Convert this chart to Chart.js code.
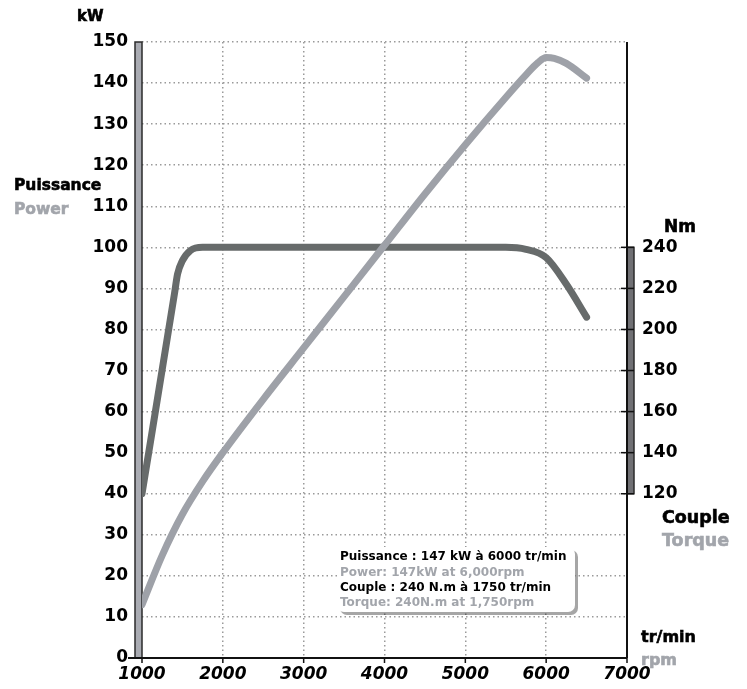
<!DOCTYPE html>
<html>
<head>
<meta charset="utf-8">
<script src="https://cdn.jsdelivr.net/npm/chart.js@4.4.1/dist/chart.umd.min.js"></script>
<style>
  html, body { margin: 0; padding: 0; background: #fff; }
  #wrap { width: 747px; height: 689px; position: relative; }
</style>
</head>
<body>
<div id="wrap"><canvas id="engineChart" width="747" height="689"></canvas></div>
<script>
// data
const powerRpm = [1000, 1250, 1500, 1750, 2000, 2500, 3000, 3500, 4000, 4500, 5000, 5500, 5750, 5900, 6000, 6100, 6250, 6500];
const powerKw = [13, 25, 35, 43, 50, 63, 75.5, 88, 100.5, 113, 125, 136.5, 142, 145, 146.2, 146, 144.8, 141.2];
const torqueRpm = [1000, 1400, 1440, 1500, 1600, 1750, 2500, 3500, 4500, 5500, 5750, 6000, 6250, 6500];
const torqueNm = [120, 217, 227, 233.5, 238.5, 240, 240, 240, 240, 240, 239, 235, 222, 206];
const rpmTicks = [1000, 2000, 3000, 4000, 5000, 6000, 7000];
const nmTicks = [120, 140, 160, 180, 200, 220, 240];

const POWER_COLOR = "#9ea1a8";
const TORQUE_COLOR = "#676b6b";
const GREY_TEXT = "#a2a5ab";
const GRID_COLOR = "#9a9a9a";
const TICK_FONT = { family: "DejaVu Sans", size: 17, weight: "bold" };

// axes, side labels and the info box drawn around the plot
const decorations = {
	id: "decorations",
	beforeDatasetsDraw(chart) {
		const ctx = chart.ctx;
		const area = chart.chartArea;
		const y2 = chart.scales.y2;
		const x = chart.scales.x;
		ctx.save();
		// left grey bar
		ctx.fillStyle = "#a9abb2";
		ctx.strokeStyle = "#2b2b2b";
		ctx.lineWidth = 1.5;
		ctx.fillRect(area.left - 7, area.top, 7, area.bottom - area.top);
		ctx.strokeRect(area.left - 7, area.top, 7, area.bottom - area.top);
		// right torque bar
		const t240 = y2.getPixelForValue(240), t120 = y2.getPixelForValue(120);
		ctx.fillStyle = "#707074";
		ctx.fillRect(area.right, t240, 7, t120 - t240);
		ctx.strokeRect(area.right, t240, 7, t120 - t240);
		ctx.strokeStyle = "#111";
		for (const v of nmTicks) {
			const py = y2.getPixelForValue(v);
			ctx.beginPath();
			ctx.moveTo(area.right - 6, py);
			ctx.lineTo(area.right + 7, py);
			ctx.stroke();
		}
		// right axis line and x axis line
		ctx.lineWidth = 2;
		ctx.beginPath();
		ctx.moveTo(area.right, area.top);
		ctx.lineTo(area.right, area.bottom);
		ctx.moveTo(area.left - 14, area.bottom);
		ctx.lineTo(area.right, area.bottom);
		ctx.stroke();
		ctx.lineWidth = 1.5;
		for (const v of rpmTicks) {
			const px = x.getPixelForValue(v);
			ctx.beginPath();
			ctx.moveTo(px, area.bottom);
			ctx.lineTo(px, area.bottom + 5);
			ctx.stroke();
		}
		ctx.restore();
	},
	afterDraw(chart) {
		const ctx = chart.ctx;
		ctx.save();
		ctx.textBaseline = "middle";
		ctx.textAlign = "left";
		const label = (txt, px, py, color, size) => {
			ctx.font = "bold " + size + "px 'DejaVu Sans'";
			ctx.fillStyle = color;
			ctx.strokeStyle = color;
			ctx.lineWidth = 0.6;
			ctx.fillText(txt, px, py);
			ctx.strokeText(txt, px, py);
		};
		label("kW", 77, 17, "#000", 15);
		label("Puissance", 14, 186, "#000", 15.5);
		label("Power", 14, 210, GREY_TEXT, 15.5);
		label("Nm", 664, 228, "#000", 17);
		label("Couple", 662, 518, "#000", 17.5);
		label("Torque", 662, 541, GREY_TEXT, 17.5);
		label("tr/min", 641, 638, "#000", 16);
		label("rpm", 641, 661, GREY_TEXT, 16);

		// info box with shadow
		const bx = 337, by = 547, bw = 238, bh = 65;
		ctx.fillStyle = "rgba(0,0,0,0.35)";
		ctx.beginPath();
		ctx.roundRect(bx + 3, by + 3, bw, bh, 7);
		ctx.fill();
		ctx.fillStyle = "#fff";
		ctx.beginPath();
		ctx.roundRect(bx, by, bw, bh, 7);
		ctx.fill();
		const infoLines = [
			["Puissance : 147 kW à 6000 tr/min", "#000"],
			["Power: 147kW at 6,000rpm", GREY_TEXT],
			["Couple : 240 N.m à 1750 tr/min", "#000"],
			["Torque: 240N.m at 1,750rpm", GREY_TEXT],
		];
		ctx.font = "bold 12px 'DejaVu Sans'";
		infoLines.forEach((l, i) => {
			ctx.fillStyle = l[1];
			ctx.fillText(l[0], 340, 557 + i * 15.4, 232);
		});
		ctx.restore();
	},
};

const ctx = document.getElementById("engineChart").getContext("2d");
const chart = new Chart(ctx, {
	type: "line",
	data: {
		datasets: [
			{
				label: "Puissance / Power (kW)",
				data: powerRpm.map((r, i) => ({ x: r, y: powerKw[i] })),
				borderColor: POWER_COLOR,
				borderWidth: 7,
				yAxisID: "y",
			},
			{
				label: "Couple / Torque (Nm)",
				data: torqueRpm.map((r, i) => ({ x: r, y: torqueNm[i] })),
				borderColor: TORQUE_COLOR,
				borderWidth: 7,
				yAxisID: "y2",
			},
		],
	},
	options: {
		responsive: false,
		animation: false,
		devicePixelRatio: 1,
		elements: {
			point: { radius: 0 },
			line: { cubicInterpolationMode: "monotone", borderCapStyle: "round", borderJoinStyle: "round" },
		},
		layout: { padding: { top: 42, left: 0, right: 0, bottom: 0 } },
		plugins: { legend: { display: false }, tooltip: { enabled: false } },
		scales: {
			x: {
				type: "linear",
				min: 1000,
				max: 7000,
				afterBuildTicks: (s) => { s.ticks = rpmTicks.map((v) => ({ value: v })); },
				ticks: {
					font: { family: "DejaVu Sans", size: 17, weight: "bold", style: "italic" },
					color: "#000",
					padding: 6,
					maxRotation: 0,
					callback: (v) => String(v),
				},
				grid: {
					color: (c) => (c.tick && (c.tick.value === 1000 || c.tick.value === 7000) ? "transparent" : GRID_COLOR),
					lineWidth: 1.5,
					drawTicks: false,
				},
				border: { display: false, dash: [1.5, 3] },
				afterFit: (s) => { s.height = 31; },
			},
			y: {
				min: 0,
				max: 150,
				ticks: { stepSize: 10, font: TICK_FONT, color: "#000", padding: 14 },
				grid: {
					color: (c) => (c.tick && c.tick.value === 0 ? "transparent" : GRID_COLOR),
					lineWidth: 1.5,
					drawTicks: false,
				},
				border: { display: false, dash: [1.5, 3] },
				afterFit: (s) => { s.width = 142; },
			},
			y2: {
				position: "right",
				min: 40,
				max: 340,
				afterBuildTicks: (s) => { s.ticks = nmTicks.map((v) => ({ value: v })); },
				ticks: { font: TICK_FONT, color: "#000", padding: 15 },
				grid: { display: false, drawTicks: false },
				border: { display: false },
				afterFit: (s) => { s.width = 120; },
			},
		},
	},
	plugins: [decorations],
});
</script>
</body>
</html>
